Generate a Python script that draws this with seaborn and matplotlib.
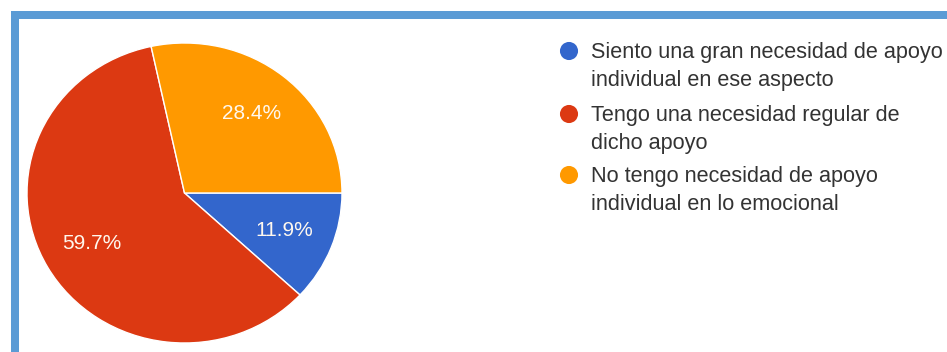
import matplotlib
matplotlib.use("Agg")
import matplotlib.pyplot as plt
import seaborn as sns
from matplotlib.patches import Rectangle

# Survey answers and their shares (percent)
labels = [
    "Siento una gran necesidad de apoyo\nindividual en ese aspecto",
    "Tengo una necesidad regular de\ndicho apoyo",
    "No tengo necesidad de apoyo\nindividual en lo emocional",
]
shares = [11.9, 59.7, 28.4]
colors = ["#3366CC", "#DC3912", "#FF9900"]

sns.set_theme(style="white")
plt.rcParams["font.family"] = ["Liberation Sans", "DejaVu Sans"]

W, H = 947, 352
fig = plt.figure(figsize=(W / 100, H / 100), dpi=100)
fig.patch.set_facecolor("white")

# overlay axes in pixel units for the frame and the legend
ov = fig.add_axes([0, 0, 1, 1])
ov.set_xlim(0, W)
ov.set_ylim(H, 0)
ov.axis("off")

# blue frame along the top and left sides
frame_col = "#5B9BD5"
ov.add_patch(Rectangle((11, 11), W - 11, 7.5, color=frame_col, lw=0))
ov.add_patch(Rectangle((11, 11), 8, H - 11, color=frame_col, lw=0))

# pie axes (slightly wider than tall)
px0, px1, py0, py1 = 27, 342, 43, 343
ax = fig.add_axes([px0 / W, (H - py1) / H, (px1 - px0) / W, (py1 - py0) / H])
wedges, _, autotexts = ax.pie(
    shares,
    colors=colors,
    startangle=0,
    counterclock=False,
    autopct="%.1f%%",
    pctdistance=0.68,
    wedgeprops=dict(edgecolor="white", linewidth=1.0),
    textprops=dict(color="#FFF8EE", fontsize=15),
)
ax.set_aspect("auto")
ax.set_xlim(-1, 1)
ax.set_ylim(-1, 1)
ax.axis("off")

# legend: marker beside the first line of each entry
last_baselines = [86, 149, 210]
line_step = 29
for lab, col, yb in zip(labels, colors, last_baselines):
    ov.scatter([569], [yb - line_step - 6], s=170, color=col,
               edgecolors="none", zorder=3)
    ov.text(591, yb, lab, fontsize=15.6, color="#333333", va="baseline",
            ha="left", linespacing=1.45)

fig.savefig("out.png", dpi=100, facecolor="white")
